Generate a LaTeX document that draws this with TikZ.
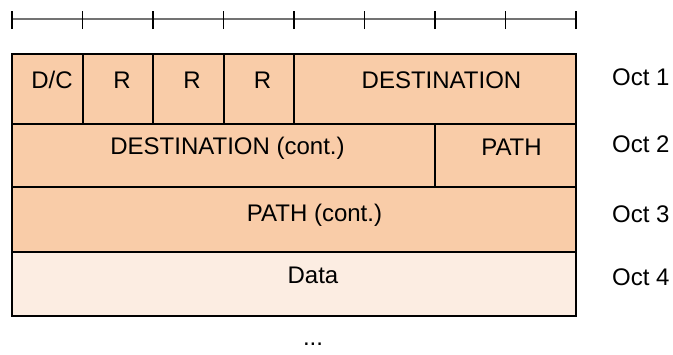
\documentclass[tikz,border=0pt]{standalone}
\usepackage{fontspec}
\setmainfont{Liberation Sans}
\definecolor{peach}{RGB}{249,204,168}
\definecolor{lightpeach}{RGB}{252,237,226}
\definecolor{rulegray}{RGB}{115,115,115}
\tikzset{
  cell/.style={draw=black, line width=1.3pt, fill=peach, minimum width=0pt, minimum height=0pt, inner sep=0pt, outer sep=0pt},
  datacell/.style={cell, fill=lightpeach},
  lbl/.style={anchor=base, inner sep=0pt, font=\fontsize{24}{28}\selectfont, text=black},
  octlbl/.style={lbl, anchor=base west},
  rulerline/.style={draw=rulegray, line width=1.4pt},
  tick/.style={draw=black, line width=1.4pt}
}
\begin{document}
\begin{tikzpicture}[x=1pt,y=-1pt]
\useasboundingbox (0,0) rectangle (673,354);
% ruler
\foreach \i in {0,...,8} {
  \coordinate (t\i) at ({12+\i*70.5},19);
}
\draw[rulerline] (t0) -- (t8);
\foreach \i in {0,...,8} {
  \draw[tick] ([yshift=-10pt]t\i) -- ([yshift=8pt]t\i);
}
% row 1
\node[cell, minimum width=71pt, minimum height=70pt] (dc) at (47.5,89) {};
\node[cell, minimum width=70pt, minimum height=70pt] (r1) at (118,89) {};
\node[cell, minimum width=71pt, minimum height=70pt] (r2) at (188.5,89) {};
\node[cell, minimum width=70pt, minimum height=70pt] (r3) at (259,89) {};
\node[cell, minimum width=282pt, minimum height=70pt] (dest) at (435,89) {};
% row 2
\node[cell, minimum width=423pt, minimum height=63pt] (destc) at (223.5,155.5) {};
\node[cell, minimum width=141pt, minimum height=63pt] (path) at (505.5,155.5) {};
% row 3
\node[cell, minimum width=564pt, minimum height=65pt] (pathc) at (294,219.5) {};
% row 4
\node[datacell, minimum width=564pt, minimum height=64pt] (data) at (294,284) {};
% labels
\node[lbl] (tdc) at (52,88) {D/C};
\node[lbl] (tr1) at (122,88) {R};
\node[lbl] (tr2) at (192,88) {R};
\node[lbl] (tr3) at (262.5,88) {R};
\node[lbl] (tdest) at (441.5,88) {DESTINATION};
\node[lbl] (tdestc) at (227.5,154) {DESTINATION (cont.)};
\node[lbl] (tpath) at (511.5,155) {PATH};
\node[lbl] (tpathc) at (314.5,221) {PATH (cont.)};
\node[lbl] (tdata) at (313,283) {Data};
\node[octlbl] (o1) at (612,85) {Oct 1};
\node[octlbl] (o2) at (612,152) {Oct 2};
\node[octlbl] (o3) at (612,222) {Oct 3};
\node[octlbl] (o4) at (612,285) {Oct 4};
\node[lbl] (dots) at (313,345) {...};
\end{tikzpicture}
\end{document}
